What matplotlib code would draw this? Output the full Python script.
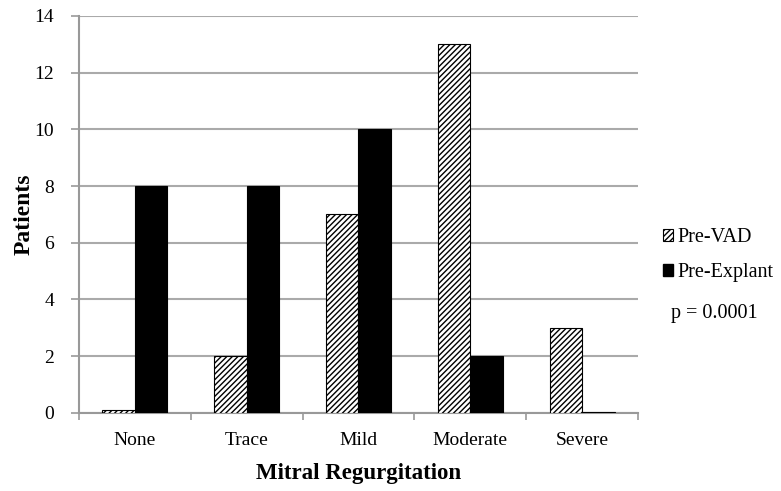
import numpy as np
import matplotlib
matplotlib.use('Agg')
import matplotlib.pyplot as plt
from matplotlib.patches import Patch

plt.rcParams['font.family'] = ['Liberation Serif', 'DejaVu Serif']
plt.rcParams['hatch.linewidth'] = 1.0

categories = ['None', 'Trace', 'Mild', 'Moderate', 'Severe']
pre_vad = [0.1, 2, 7, 13, 3]
pre_explant = [8, 8, 10, 2, 0.05]
yticks = [0, 2, 4, 6, 8, 10, 12, 14]

fig = plt.figure(figsize=(7.81, 4.91), dpi=100)
ax = fig.add_axes([0.101, 0.159, 0.716, 0.8086])

x = np.arange(len(categories))
w = 0.29
ax.bar(x - w / 2, pre_vad, w, color='white', edgecolor='black', hatch='//////', linewidth=0.8, zorder=3)
ax.bar(x + w / 2, pre_explant, w, color='black', edgecolor='black', linewidth=0.8, zorder=3)

ax.set_xlim(-0.5, len(categories) - 0.5)
ax.set_ylim(0, 14)
ax.set_yticks(yticks)
ax.set_yticklabels([str(v) for v in yticks], fontsize=14)
ax.set_xticks(x)
ax.set_xticklabels(categories, fontsize=14)
ax.tick_params(axis='x', length=0, pad=14)
ax.set_xticks(np.arange(len(categories) + 1) - 0.5, minor=True)
ax.tick_params(axis='x', which='minor', length=5, color='#999999', width=1.2)
ax.tick_params(axis='y', length=6, color='#999999', width=1.2, pad=12)

ax.grid(axis='y', color='#aaaaaa', linewidth=1.5, zorder=0)
for s in ['top', 'right']:
    ax.spines[s].set_visible(False)
ax.spines['left'].set_color('#999999')
ax.spines['left'].set_linewidth(1.5)
ax.spines['bottom'].set_color('#999999')
ax.spines['bottom'].set_linewidth(1.5)

ax.set_ylabel('Patients', fontsize=17, fontweight='bold', labelpad=0)
ax.set_xlabel('Mitral Regurgitation', fontsize=16.5, fontweight='bold', labelpad=10)

handles = [Patch(facecolor='white', edgecolor='black', hatch='//////', linewidth=0.8, label='Pre-VAD'),
           Patch(facecolor='black', edgecolor='black', label='Pre-Explant')]
fig.legend(handles=handles, loc='center left', bbox_to_anchor=(0.849, 0.4807), frameon=False,
           fontsize=14.5, handlelength=0.5, handleheight=0.5, handletextpad=0.2, labelspacing=0.8,
           borderpad=0, borderaxespad=0)
fig.text(0.859, 0.3625, 'p = 0.0001', fontsize=14.5, va='center')

fig.savefig('out.png', dpi=100)
